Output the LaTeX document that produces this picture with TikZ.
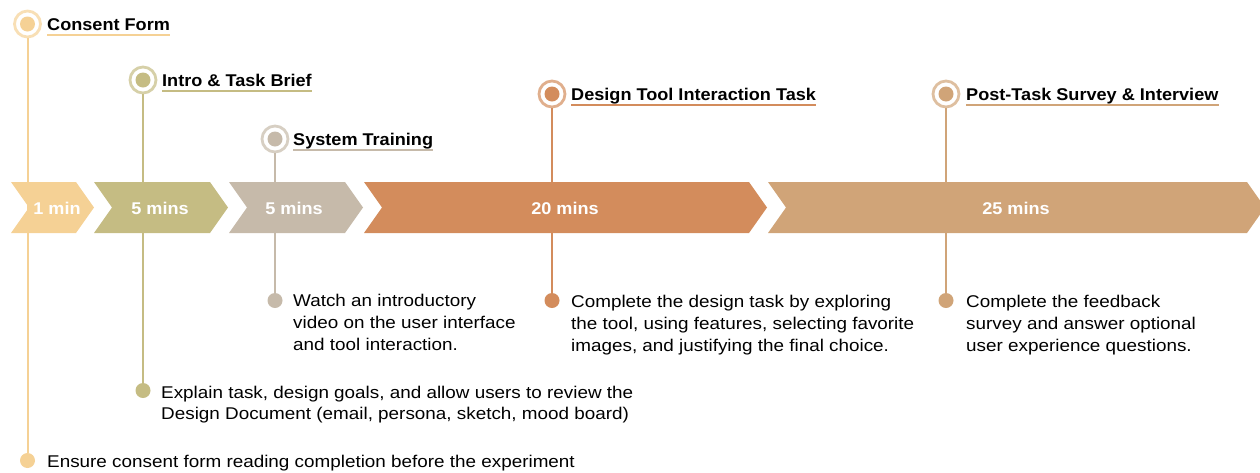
\documentclass[tikz,border=0pt]{standalone}
\usepackage{fontspec}
\setmainfont{Liberation Sans}
\newfontfamily\bodyfont{Liberation Sans}[FakeStretch=1.11]
\newfontfamily\headfont{Liberation Sans}[FakeStretch=1.065]
\definecolor{cA}{HTML}{F5D195}
\definecolor{cB}{HTML}{C5BC83}
\definecolor{cC}{HTML}{C6BAAA}
\definecolor{cD}{HTML}{D38C5C}
\definecolor{cE}{HTML}{D0A478}
\begin{document}
\begin{tikzpicture}[x=1pt,y=-1pt,
  ring/.style={circle, draw=#1!70!white, line width=2.8pt, minimum size=26pt, inner sep=0pt, fill=white,
    path picture={\fill[#1] (path picture bounding box.center) circle (7.5pt);}},
  dot/.style={circle, fill=#1, minimum size=15pt, inner sep=0pt},
  stem/.style={draw=#1, line width=2pt},
  title/.style={font=\headfont\fontsize{17}{20}\selectfont\bfseries, inner sep=0pt, anchor=base west},
  desc/.style={font=\bodyfont\fontsize{17}{22}\selectfont, inner sep=0pt, anchor=north west, align=left},
  chevlabel/.style={font=\headfont\fontsize{17}{20}\selectfont\bfseries, text=white, inner sep=0pt, anchor=base},
  uline/.style={draw=#1, line width=2pt}
]
\useasboundingbox (0,0) rectangle (1260,472);

% rings and dots
\node[ring=cA] (r1) at (27.5,24) {};
\node[ring=cB] (r2) at (143,80) {};
\node[ring=cC] (r3) at (275,139) {};
\node[ring=cD] (r4) at (552,94) {};
\node[ring=cE] (r5) at (946,94) {};

\node[dot=cA] (d1) at (27.5,460.5) {};
\node[dot=cB] (d2) at (143,390.5) {};
\node[dot=cC] (d3) at (275,300.5) {};
\node[dot=cD] (d4) at (552,300.5) {};
\node[dot=cE] (d5) at (946,300.5) {};

% stems
\draw[stem=cA] (r1) -- (d1);
\draw[stem=cB] (r2) -- (d2);
\draw[stem=cC] (r3) -- (d3);
\draw[stem=cD] (r4) -- (d4);
\draw[stem=cE] (r5) -- (d5);

% chevrons
\fill[cA] (11,182) -- (76,182) -- (94,207.5) -- (76,233) -- (11,233) -- (29,207.5) -- cycle;
\fill[cB] (94,182) -- (210,182) -- (228,207.5) -- (210,233) -- (94,233) -- (112,207.5) -- cycle;
\fill[cC] (229,182) -- (345,182) -- (363,207.5) -- (345,233) -- (229,233) -- (247,207.5) -- cycle;
\fill[cD] (364,182) -- (749,182) -- (767,207.5) -- (749,233) -- (364,233) -- (382,207.5) -- cycle;
\fill[cE] (768,182) -- (1247,182) -- (1265,207.5) -- (1247,233) -- (768,233) -- (786,207.5) -- cycle;

\node[chevlabel] (l1) at (57,214) {1 min};
\node[chevlabel] (l2) at (160,214) {5 mins};
\node[chevlabel] (l3) at (294,214) {5 mins};
\node[chevlabel] (l4) at (565,214) {20 mins};
\node[chevlabel] (l5) at (1016,214) {25 mins};

% titles
\node[title] (t1) at (47,30) {Consent Form};
\node[title] (t2) at (162,86) {Intro \& Task Brief};
\node[title] (t3) at (293,145) {System Training};
\node[title] (t4) at (571,100) {Design Tool Interaction Task};
\node[title] (t5) at (966,100) {Post-Task Survey \& Interview};
\draw[uline=cA] ([yshift=-5pt]t1.base west) -- ([yshift=-5pt]t1.base east);
\draw[uline=cB] ([yshift=-5pt]t2.base west) -- ([yshift=-5pt]t2.base east);
\draw[uline=cC] ([yshift=-5pt]t3.base west) -- ([yshift=-5pt]t3.base east);
\draw[uline=cD] ([yshift=-5pt]t4.base west) -- ([yshift=-5pt]t4.base east);
\draw[uline=cE] ([yshift=-5pt]t5.base west) -- ([yshift=-5pt]t5.base east);

% descriptions
\node[desc] (x3) at (293,294) {Watch an introductory\\video on the user interface\\and tool interaction.};
\node[desc] (x4) at (571,295) {Complete the design task by exploring\\the tool, using features, selecting favorite\\images, and justifying the final choice.};
\node[desc] (x5) at (966,295) {Complete the feedback\\survey and answer optional\\user experience questions.};
\node[desc, font=\bodyfont\fontsize{17}{21}\selectfont] (x2) at (161,386) {Explain task, design goals, and allow users to review the\\Design Document (email, persona, sketch, mood board)};
\node[desc] (x1) at (47,455) {Ensure consent form reading completion before the experiment};
\end{tikzpicture}
\end{document}
